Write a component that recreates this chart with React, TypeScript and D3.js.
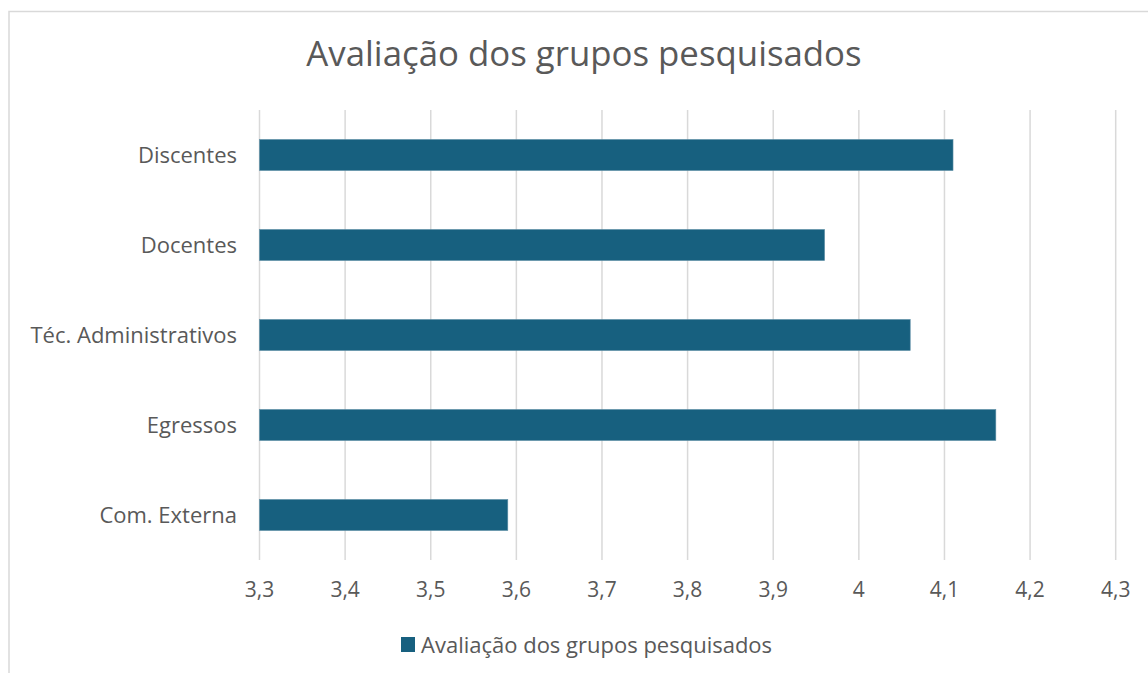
import React from "react";
import * as d3 from "d3";

const categories = ["Discentes", "Docentes", "Téc. Administrativos", "Egressos", "Com. Externa"];
const values = [4.11, 3.96, 4.06, 4.16, 3.59];
const ticks = [3.3, 3.4, 3.5, 3.6, 3.7, 3.8, 3.9, 4.0, 4.1, 4.2, 4.3];
const title = "Avaliação dos grupos pesquisados";
const seriesName = "Avaliação dos grupos pesquisados";

const W = 1148;
const H = 673;
const font = "'Open Sans', 'Noto Sans', sans-serif";
const textColor = "#595959";
const barColor = "#17607F";

export default function App() {
  const x = d3.scaleLinear().domain([3.3, 4.3]).range([259.5, 1115.7]);
  const y = d3.scaleBand<string>().domain(categories).range([110, 560]).paddingInner(0.655).paddingOuter(0.3275);
  const fmt = (v: number) => d3.format("~g")(v).replace(".", ",");
  return (
    <svg width={W} height={H} style={{ position: "absolute", left: 0, top: 0 }}>
      <rect x={0} y={0} width={W} height={H} fill="#fff" />
      <rect x={9} y={11.5} width={W + 10} height={H + 10} fill="none" stroke="#d9d9d9" strokeWidth={1.5} />
      <text x={584} y={52} textAnchor="middle" dominantBaseline="central" fontFamily={font} fontSize={34.8} fill={textColor}>{title}</text>
      {ticks.map((t) => (
        <line key={t} x1={x(t)} x2={x(t)} y1={110} y2={560} stroke="#d9d9d9" strokeWidth={1.5} />
      ))}
      {categories.map((c, i) => (
        <rect key={c} x={x(3.3)} y={y(c)!} width={x(values[i]) - x(3.3)} height={y.bandwidth()} fill={barColor} stroke="#5f8fa6" strokeWidth={0.6} />
      ))}
      {categories.map((c) => (
        <text key={c} x={237} y={y(c)! + y.bandwidth() / 2 - 1.5} textAnchor="end" dominantBaseline="central" fontFamily={font} fontSize={22} fill={textColor}>{c}</text>
      ))}
      {ticks.map((t) => (
        <text key={t} x={x(t)} y={589} textAnchor="middle" dominantBaseline="central" fontFamily={font} fontSize={21} fill={textColor}>{fmt(t)}</text>
      ))}
      <rect x={401} y={637} width={14} height={15} fill={barColor} />
      <text x={421} y={643.5} dominantBaseline="central" fontFamily={font} fontSize={22} fill={textColor}>{seriesName}</text>
    </svg>
  );
}
